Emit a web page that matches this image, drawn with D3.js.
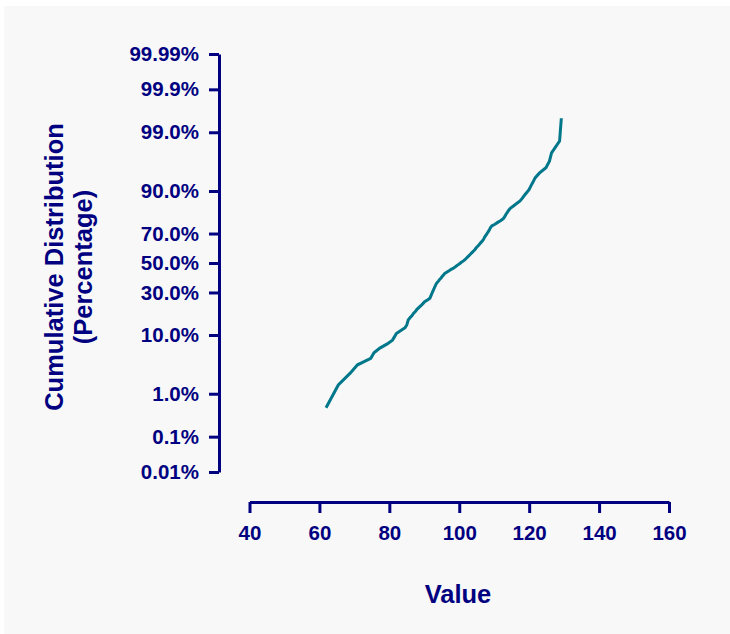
<!DOCTYPE html>
<html>
<head>
<meta charset="utf-8">
<script src="https://cdn.jsdelivr.net/npm/d3@7"></script>
<style>
  body { margin: 0; background: #fff; }
  text { font-family: "Liberation Sans", Arial, sans-serif; font-weight: bold; fill: #000080; }
</style>
</head>
<body>
<svg id="chart"></svg>
<script>
const width = 730;
const height = 634;

// sorted sample values, plotted at (i - 0.5) / n
const values = [
  61.9, 65.4, 68.8, 70.9, 74.7, 75.6, 77.3, 79.4, 80.9, 81.5,
  82.0, 83.3, 84.5, 85.0, 85.2, 85.4, 85.9, 86.5, 86.9, 87.5,
  87.9, 88.5, 89.1, 89.6, 90.1, 90.9, 91.6, 91.8, 92.0, 92.2,
  92.4, 92.6, 92.8, 93.0, 93.2, 93.4, 93.7, 94.1, 94.4, 94.8,
  95.1, 95.5, 95.8, 96.4, 97.1, 97.7, 98.4, 99.0, 99.5, 100.1,
  100.6, 101.2, 101.7, 102.1, 102.5, 102.9, 103.3, 103.7, 104.1, 104.5,
  104.8, 105.2, 105.6, 105.9, 106.3, 106.7, 107.0, 107.2, 107.5, 107.8,
  108.1, 108.4, 108.7, 108.9, 109.3, 110.2, 111.0, 111.9, 112.6, 113.0,
  113.3, 113.7, 114.1, 114.6, 115.5, 116.4, 117.4, 118.0, 118.6, 119.3,
  120.0, 120.5, 121.1, 121.7, 122.9, 124.8, 125.8, 126.4, 128.7, 129.2
];

// y axis ticks (percent) and their labels
const yTicks = [0.01, 0.1, 1, 10, 30, 50, 70, 90, 99, 99.9, 99.99];
const yLabels = ["0.01%", "0.1%", "1.0%", "10.0%", "30.0%", "50.0%", "70.0%", "90.0%", "99.0%", "99.9%", "99.99%"];
const xTicks = [40, 60, 80, 100, 120, 140, 160];

// inverse normal CDF (Acklam)
function probit(p) {
  const a = [-39.69683028665376, 220.9460984245205, -275.9285104469687, 138.3577518672690, -30.66479806614716, 2.506628277459239];
  const b = [-54.47609879822406, 161.5858368580409, -155.6989798598866, 66.80131188771972, -13.28068155288572];
  const c = [-7.784894002430293e-03, -0.3223964580411365, -2.400758277161838, -2.549732539343734, 4.374664141464968, 2.938163982698783];
  const d = [7.784695709041462e-03, 0.3224671290700398, 2.445134137142996, 3.754408661907416];
  const pl = 0.02425, ph = 1 - pl;
  let q, r;
  if (p < pl) {
    q = Math.sqrt(-2 * Math.log(p));
    return (((((c[0]*q+c[1])*q+c[2])*q+c[3])*q+c[4])*q+c[5]) / ((((d[0]*q+d[1])*q+d[2])*q+d[3])*q+1);
  }
  if (p <= ph) {
    q = p - 0.5; r = q * q;
    return (((((a[0]*r+a[1])*r+a[2])*r+a[3])*r+a[4])*r+a[5])*q / (((((b[0]*r+b[1])*r+b[2])*r+b[3])*r+b[4])*r+1);
  }
  q = Math.sqrt(-2 * Math.log(1 - p));
  return -(((((c[0]*q+c[1])*q+c[2])*q+c[3])*q+c[4])*q+c[5]) / ((((d[0]*q+d[1])*q+d[2])*q+d[3])*q+1);
}

const svg = d3.select("#chart")
  .attr("width", width)
  .attr("height", height);

svg.append("rect")
  .attr("x", 4).attr("y", 6)
  .attr("width", width - 4).attr("height", height - 6)
  .attr("fill", "#f8f8f8");

const x = d3.scaleLinear().domain([40, 160]).range([249.5, 669]);
const y = d3.scaleLinear()
  .domain([probit(0.0001), probit(0.9999)])
  .range([472, 54]);

const navy = "#000080";

// y axis
const yAxis = d3.axisLeft(y)
  .tickValues(yTicks.map(t => probit(t / 100)))
  .tickFormat((d, i) => yLabels[i])
  .tickSize(10)
  .tickSizeOuter(0)
  .tickPadding(10);

const gy = svg.append("g")
  .attr("transform", "translate(219,0)")
  .call(yAxis);

// x axis
const xAxis = d3.axisBottom(x)
  .tickValues(xTicks)
  .tickSize(11)
  .tickSizeOuter(0)
  .tickPadding(12);

const gx = svg.append("g")
  .attr("transform", "translate(0,502)")
  .call(xAxis);

[gy, gx].forEach(g => {
  g.select(".domain").attr("stroke", navy).attr("stroke-width", 3);
  g.selectAll(".tick line").attr("stroke", navy).attr("stroke-width", 3);
  g.selectAll(".tick text")
    .attr("fill", navy)
    .style("font-family", '"Liberation Sans", Arial, sans-serif')
    .style("font-weight", "bold")
    .style("font-size", "20.5px");
});

// cumulative curve
const n = values.length;
const line = d3.line()
  .x(d => x(d))
  .y((d, i) => y(probit((i + 0.5) / n)));

svg.append("path")
  .datum(values)
  .attr("d", line)
  .attr("fill", "none")
  .attr("stroke", "#00778a")
  .attr("stroke-width", 3)
  .attr("stroke-linejoin", "miter");

// axis titles
svg.append("text")
  .attr("x", 458).attr("y", 603)
  .attr("text-anchor", "middle")
  .style("font-size", "25.5px")
  .text("Value");

const yt = svg.append("text")
  .attr("transform", "translate(0,267) rotate(-90)")
  .attr("text-anchor", "middle")
  .style("font-size", "25.5px");
yt.append("tspan").attr("x", 0).attr("y", 63).text("Cumulative Distribution");
yt.append("tspan").attr("x", 0).attr("y", 92).text("(Percentage)");
</script>
</body>
</html>
